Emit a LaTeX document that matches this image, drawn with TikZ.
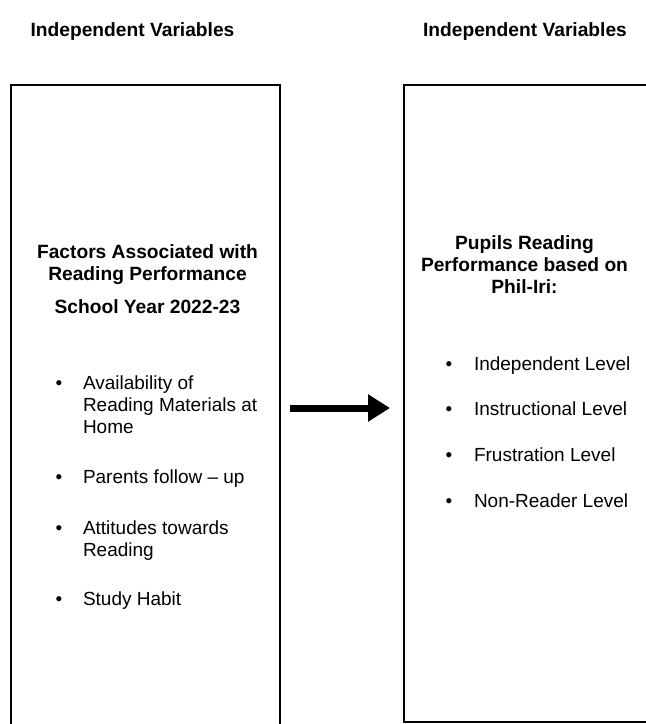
\documentclass[tikz,border=0pt]{standalone}
\usepackage{fontspec}
\setmainfont{Liberation Sans}
\usetikzlibrary{arrows.meta}
\begin{document}
\begin{tikzpicture}[x=1pt,y=-1pt,
  every node/.style={inner sep=0pt,outer sep=0pt},
  boxframe/.style={draw=black,line width=2.4pt,anchor=north west},
  title/.style={font=\fontsize{19.2}{22.5}\selectfont\bfseries,anchor=base},
  head/.style={font=\fontsize{19.2}{22}\selectfont\bfseries,align=center,anchor=north},
  item/.style={font=\fontsize{19}{22}\selectfont,align=left,anchor=north west},
  dot/.style={font=\fontsize{19}{22}\selectfont,anchor=base west},
  bigarrow/.style={line width=7pt,-{Triangle[length=22pt,width=26pt]}}]
\useasboundingbox (0,0) rectangle (646,724);
% titles (baselines)
\node[title] (t1) at (132.5,36) {Independent Variables};
\node[title] (t2) at (525,36) {Independent Variables};
% boxes
\node[boxframe,minimum width=269pt,minimum height=660pt] (lbox) at (11,85) {};
\node[boxframe,minimum width=260pt,minimum height=637pt] (rbox) at (404,85) {};
% left box content (top = first baseline - 15.4)
\node[head] (lh) at (147.5,242.6) {\strut Factors Associated with\\Reading Performance};
\node[head] (ly) at (147.5,297.6) {\strut School Year 2022-23};
\node[dot] (b1) at (55.7,389) {•};
\node[item] (i1) at (83,373.6) {\strut Availability of\\Reading Materials at\\Home};
\node[dot] (b2) at (55.7,483) {•};
\node[item] (i2) at (83,467.6) {\strut Parents follow – up};
\node[dot] (b3) at (55.7,534) {•};
\node[item] (i3) at (83,518.6) {\strut Attitudes towards\\Reading};
\node[dot] (b4) at (55.7,605) {•};
\node[item] (i4) at (83,589.6) {\strut Study Habit};
% right box content
\node[head] (rh) at (524.5,233.6) {\strut Pupils Reading\\Performance based on\\Phil-Iri:};
\node[dot] (c1) at (445.7,370) {•};
\node[item] (j1) at (474,354.6) {\strut Independent Level};
\node[dot] (c2) at (445.7,415.7) {•};
\node[item] (j2) at (474,400.3) {\strut Instructional Level};
\node[dot] (c3) at (445.7,461.4) {•};
\node[item] (j3) at (474,446) {\strut Frustration Level};
\node[dot] (c4) at (445.7,507) {•};
\node[item] (j4) at (474,491.6) {\strut Non-Reader Level};
% arrow
\coordinate (as) at ([xshift=10pt]lbox.east |- 0,408);
\coordinate (ae) at ([xshift=-14pt]rbox.west |- 0,408);
\draw[bigarrow] (as) -- (ae);
\end{tikzpicture}
\end{document}
